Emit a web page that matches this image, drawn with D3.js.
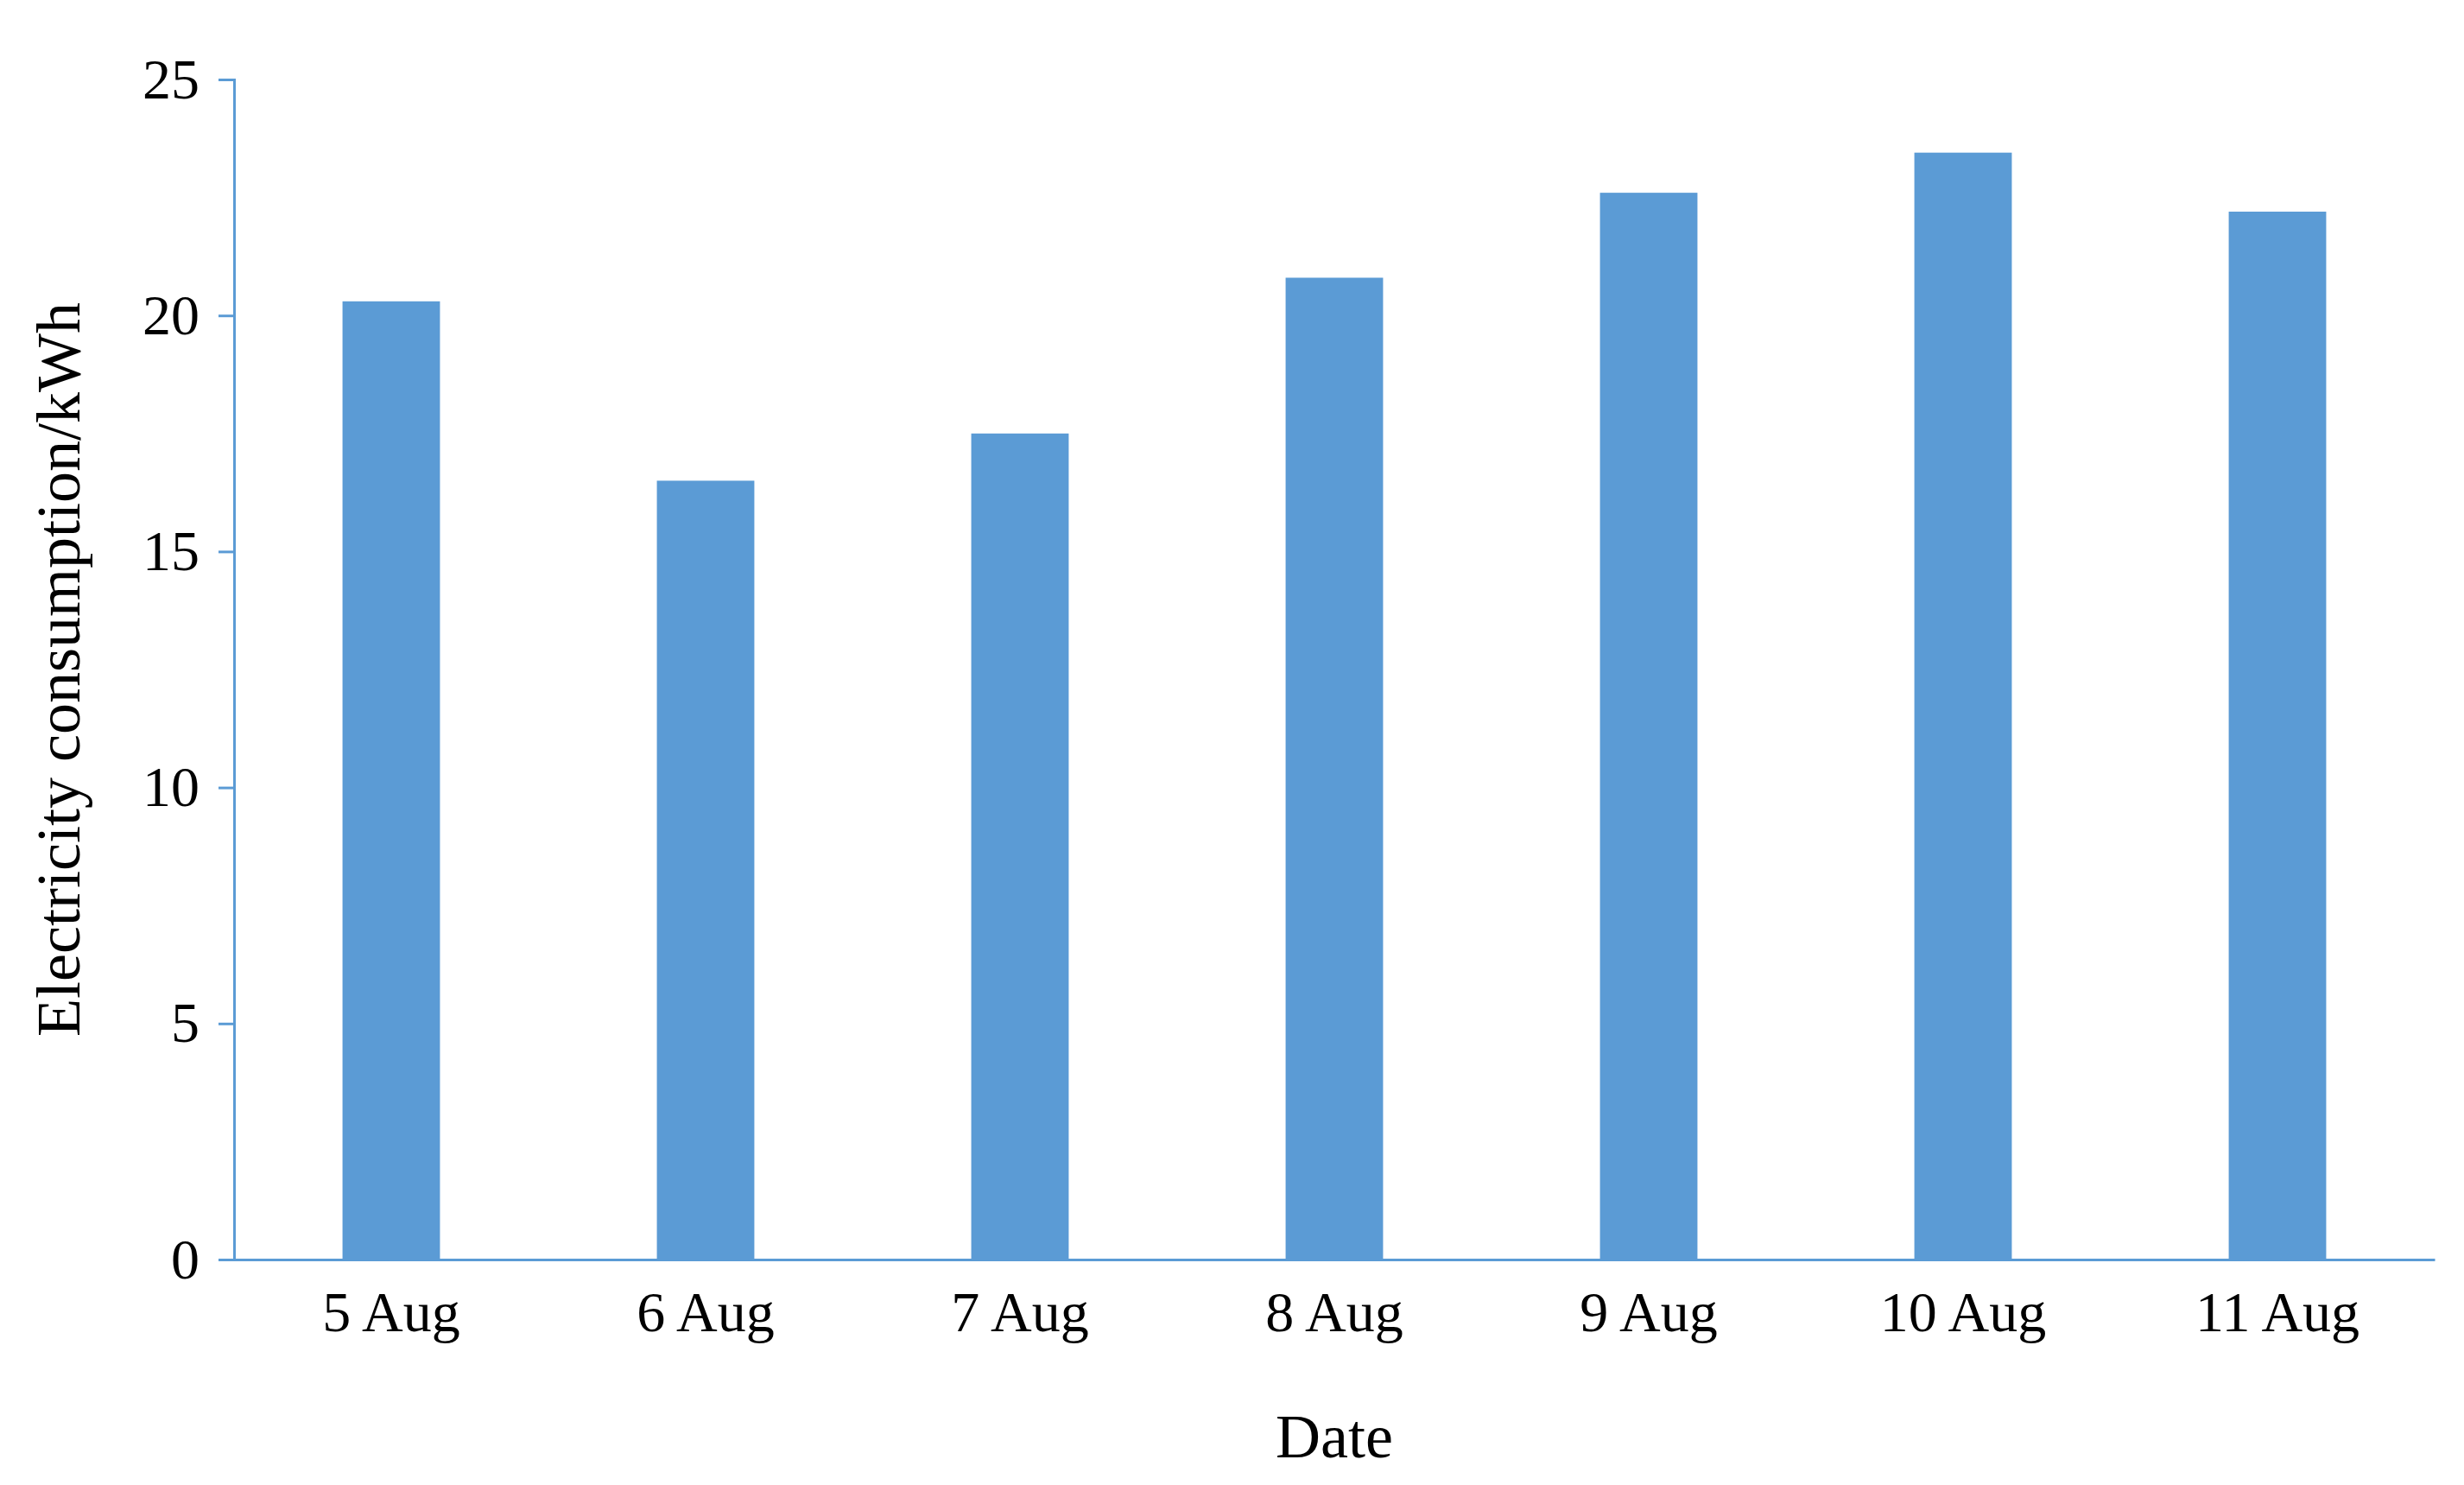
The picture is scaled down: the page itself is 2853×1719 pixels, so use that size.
<!DOCTYPE html>
<html>
<head>
<meta charset="utf-8">
<script src="https://cdn.jsdelivr.net/npm/d3@7"></script>
<style>
body { margin: 0; background: #fff; }
text { font-family: "Liberation Serif", "Times New Roman", serif; fill: #000; }
</style>
</head>
<body>
<script>
var dates = ["5 Aug", "6 Aug", "7 Aug", "8 Aug", "9 Aug", "10 Aug", "11 Aug"]
var consumption = [20.3, 16.5, 17.5, 20.8, 22.6, 23.45, 22.2]
var yTicks = [0, 5, 10, 15, 20, 25]

var W = 2853, H = 1719
var margin = {top: 92, right: 34, bottom: 261, left: 271}
var width = W - margin.left - margin.right,
    height = H - margin.top - margin.bottom
var axisColor = "#5B9BD5"

var svg = d3.select("body").append("svg")
  .attr("width", W).attr("height", H)
  .append("g")
  .attr("transform", "translate(" + margin.left + "," + margin.top + ")")

var x = d3.scaleBand().domain(dates).range([0, width]).paddingInner(0.69).paddingOuter(0.345)
var y = d3.scaleLinear().domain([0, 25]).range([height, 0])

// bars
svg.selectAll("rect.bar")
  .data(consumption)
  .enter()
  .append("rect")
    .attr("class", "bar")
    .attr("x", function(d, i) { return x(dates[i]) })
    .attr("y", function(d) { return y(d) })
    .attr("width", x.bandwidth())
    .attr("height", function(d) { return height - y(d) })
    .attr("fill", "#5B9BD5")

// y axis
var yAxis = svg.append("g")
  .call(d3.axisLeft(y).tickValues(yTicks).tickSize(18).tickPadding(22))
yAxis.selectAll("path, line").attr("stroke", axisColor).attr("stroke-width", 3)
yAxis.selectAll("text").style("font-size", "66px").style("font-family", "Liberation Serif")

// x axis
var xAxis = svg.append("g")
  .attr("transform", "translate(0," + height + ")")
  .call(d3.axisBottom(x).tickSize(0).tickPadding(36).tickSizeOuter(0))
xAxis.select("path").attr("stroke", axisColor).attr("stroke-width", 3)
xAxis.selectAll("text").style("font-size", "66px").style("font-family", "Liberation Serif")

// titles
svg.append("text")
  .attr("x", width / 2).attr("y", H - margin.top - 32)
  .attr("text-anchor", "middle")
  .style("font-size", "72px")
  .text("Date")

svg.append("text")
  .attr("transform", "translate(" + (-margin.left + 92) + "," + (height / 2) + ") rotate(-90)")
  .attr("text-anchor", "middle")
  .style("font-size", "72px")
  .text("Electricity consumption/kWh")
</script>
</body>
</html>
